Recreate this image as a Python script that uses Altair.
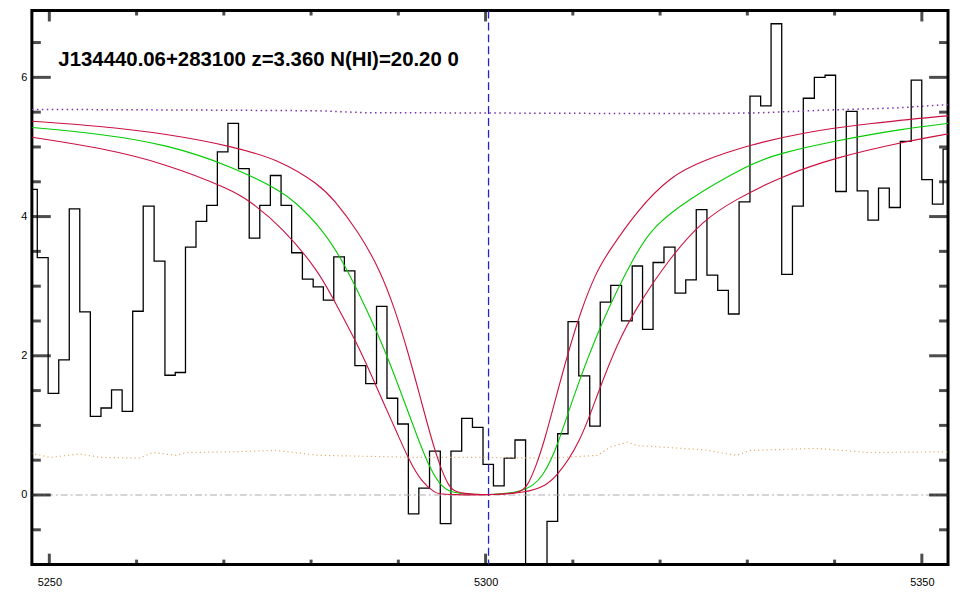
import altair as alt
import pandas as pd

# ---------------- data ----------------
# observed spectrum (bin centres, Angstrom) and flux
wave = [5247.99, 5249.25, 5250.48, 5251.68, 5252.89, 5254.09, 5255.31, 5256.53, 5257.73, 5258.96,
        5260.15, 5261.37, 5262.65, 5263.85, 5265.01, 5266.20, 5267.42, 5268.65, 5269.87, 5271.07,
        5272.30, 5273.52, 5274.72, 5275.95, 5277.17, 5278.37, 5279.64, 5280.84, 5281.98, 5283.22,
        5284.41, 5285.63, 5286.90, 5288.10, 5289.30, 5290.55, 5291.75, 5292.95, 5294.20, 5295.42,
        5296.64, 5297.88, 5299.11, 5300.30, 5301.50, 5302.76, 5303.98, 5305.19, 5306.42, 5307.66,
        5308.86, 5310.04, 5311.32, 5312.55, 5313.73, 5314.96, 5316.21, 5317.40, 5318.58, 5319.81,
        5321.08, 5322.34, 5323.54, 5324.75, 5325.99, 5327.22, 5328.44, 5329.67, 5330.93, 5332.12,
        5333.32, 5334.56, 5335.78, 5337.05, 5338.31, 5339.51, 5340.72, 5341.96, 5343.21, 5344.43,
        5345.64, 5346.90, 5348.17, 5349.39, 5350.59, 5351.83, 5353.04]
flux = [4.39, 3.41, 1.46, 1.94, 4.11, 2.63, 1.13, 1.25, 1.51, 1.20,
        2.64, 4.15, 3.36, 1.72, 1.76, 3.56, 3.93, 4.16, 4.93, 5.34,
        4.69, 3.69, 4.16, 4.59, 4.16, 3.48, 3.10, 2.99, 2.80, 3.42,
        3.22, 1.86, 1.60, 2.71, 1.39, 1.02, -0.27, 0.10, 0.63, -0.41,
        0.63, 1.10, 0.97, 0.44, 0.13, 0.53, 0.79, -1.60, -1.40, -0.38,
        0.88, 2.49, 1.71, 0.99, 2.77, 3.01, 2.50, 3.29, 2.38, 3.34,
        3.56, 2.90, 3.09, 4.10, 3.16, 2.94, 2.60, 4.21, 5.73, 5.59,
        6.77, 3.17, 4.15, 5.70, 6.00, 6.03, 4.36, 5.51, 4.37, 3.95,
        4.41, 4.13, 5.08, 5.96, 4.53, 4.18, 4.97]

# best-fit DLA profile (green)
fit_wave = [5248.03, 5255.78, 5263.39, 5270.99, 5276.69, 5278.22, 5280.88, 5283.54, 5286.58, 5288.67,
            5290.57, 5292.28, 5293.62, 5294.94, 5296.47, 5304.45, 5306.73, 5308.25, 5309.96, 5313.19,
            5317.38, 5319.28, 5322.71, 5330.30, 5333.72, 5340.18, 5347.79, 5353.11]
fit_flux = [5.28, 5.19, 5.04, 4.72, 4.36, 4.20, 3.88, 3.40, 2.61, 2.02,
            1.38, 0.80, 0.38, 0.11, 0.0, 0.0, 0.28, 0.71, 1.38, 2.47,
            3.52, 3.85, 4.21, 4.76, 4.91, 5.09, 5.26, 5.34]

# lower-N(HI) profile (upper red)
hi_wave = [5248.03, 5255.78, 5263.39, 5270.99, 5276.69, 5280.88, 5282.59, 5285.44, 5287.92, 5289.63,
           5291.14, 5292.48, 5293.80, 5294.76, 5295.71, 5296.60, 5303.90, 5304.85, 5305.80, 5306.80,
           5308.10, 5309.45, 5310.95, 5312.68, 5313.96, 5317.38, 5321.18, 5324.99, 5330.30, 5336.39,
           5343.99, 5353.11]
hi_flux = [5.37, 5.30, 5.19, 5.01, 4.80, 4.46, 4.25, 3.78, 3.23, 2.66,
           2.04, 1.42, 0.80, 0.42, 0.14, 0.0, 0.0, 0.14, 0.42, 0.80,
           1.42, 2.04, 2.66, 3.20, 3.47, 4.09, 4.58, 4.81, 5.03, 5.21,
           5.34, 5.45]

# higher-N(HI) profile (lower red)
lo_wave = [5248.03, 5255.78, 5263.39, 5270.99, 5272.89, 5276.69, 5280.88, 5282.39, 5285.06, 5286.96,
           5288.10, 5290.00, 5291.34, 5292.66, 5294.19, 5294.94, 5305.59, 5308.25, 5310.91, 5312.62,
           5315.10, 5317.38, 5321.18, 5324.99, 5328.41, 5334.11, 5340.18, 5347.79, 5353.11]
lo_flux = [5.14, 4.99, 4.76, 4.38, 4.23, 3.85, 3.21, 2.85, 2.23, 1.71,
           1.38, 0.85, 0.47, 0.19, 0.03, 0.0, 0.0, 0.26, 0.78, 1.38,
           2.19, 2.71, 3.42, 3.95, 4.23, 4.59, 4.85, 5.07, 5.19]

# continuum (purple dotted)
cont_wave = [5248.0, 5267.19, 5280.88, 5286.58, 5294.56, 5317.38, 5325.47, 5331.22, 5339.07, 5347.06, 5353.1]
cont_flux = [5.54, 5.53, 5.52, 5.49, 5.49, 5.48, 5.48, 5.49, 5.53, 5.56, 5.61]

# error array (orange dotted)
err_wave = [5247.91, 5250.08, 5253.50, 5255.78, 5260.35, 5261.86, 5264.53, 5265.67, 5270.99, 5275.94,
            5280.88, 5292.28, 5299.89, 5307.49, 5312.82, 5314.33, 5316.24, 5317.38, 5324.99, 5328.78,
            5330.30, 5337.90, 5343.99, 5351.60, 5353.10]
err_flux = [0.60, 0.54, 0.59, 0.54, 0.53, 0.61, 0.57, 0.61, 0.62, 0.64,
            0.57, 0.54, 0.54, 0.53, 0.57, 0.69, 0.76, 0.71, 0.65, 0.57,
            0.64, 0.67, 0.61, 0.62, 0.62]

lya_wave = [5300.34]
zero_level = [0.0]

label_text = ["J134440.06+283100 z=3.360 N(HI)=20.20 0"]
label_wave = [5251.03]
label_flux = [6.161]

x_major_ticks = [5250, 5300, 5350]
x_minor_ticks = [5260, 5270, 5280, 5290, 5310, 5320, 5330, 5340]
y_major_ticks = [0, 2, 4, 6]
y_minor_ticks = [-0.5, 0.5, 1, 1.5, 2.5, 3, 3.5, 4.5, 5, 5.5, 6.5]

X_DOMAIN = [5248.0, 5353.0]
Y_DOMAIN = [-1.0, 6.96]

# ---------------- chart ----------------
FONT = "Liberation Sans"
xs = alt.Scale(domain=X_DOMAIN, nice=False, zero=False)
ys = alt.Scale(domain=Y_DOMAIN, nice=False, zero=False)
xaxis = alt.Axis(values=x_major_ticks, format="d", ticks=False, tickSize=0, domain=False, grid=False,
                 labelPadding=12, labelFontSize=11, labelFont=FONT, labelColor="black", title="")
yaxis = alt.Axis(values=y_major_ticks, format="d", ticks=False, tickSize=0, domain=False, grid=False,
                 labelPadding=5, labelFontSize=11, labelFont=FONT, labelColor="black", title="")


def X(field):
    return alt.X(field, type="quantitative", scale=xs, axis=xaxis)


def Y(field):
    return alt.Y(field, type="quantitative", scale=ys, axis=yaxis)


def line(w, f, color, interp, width=1.2, dash=None):
    df = pd.DataFrame({"w": w, "f": f})
    kw = dict(color=color, strokeWidth=width, interpolate=interp, clip=True)
    if dash:
        kw["strokeDash"] = dash
    return alt.Chart(df).mark_line(**kw).encode(x=X("w"), y=Y("f"))


layers = []
layers.append(line(wave, flux, "black", "step", 1.3))
layers.append(line(cont_wave, cont_flux, "#7a2fa8", "linear", 1.5, [1.5, 3.5]))
layers.append(line(err_wave, err_flux, "#e3b070", "linear", 1.2, [1.2, 3]))
layers.append(
    alt.Chart(pd.DataFrame({"z": zero_level})).mark_rule(
        color="#aaaaaa", strokeWidth=1, strokeDash=[7, 3, 2, 3]).encode(y=Y("z"))
)
layers.append(
    alt.Chart(pd.DataFrame({"lw": lya_wave})).mark_rule(
        color="#2222cc", strokeWidth=1.3, strokeDash=[8, 4]).encode(x=X("lw"))
)
layers.append(line(fit_wave, fit_flux, "#00cc00", "basis", 1.1))
layers.append(line(hi_wave, hi_flux, "#cc1040", "basis", 1.1))
layers.append(line(lo_wave, lo_flux, "#cc1040", "basis", 1.1))

layers.append(
    alt.Chart(pd.DataFrame({"w": label_wave, "f": label_flux, "t": label_text})).mark_text(
        align="left", baseline="alphabetic", font=FONT, fontSize=20.5, fontWeight="bold", color="black"
    ).encode(x=X("w"), y=Y("f"), text="t:N")
)


def xticks(vals, length, at_top):
    ydat = Y_DOMAIN[1] if at_top else Y_DOMAIN[0]
    off = length / 2 if at_top else -length / 2
    return alt.Chart(pd.DataFrame({"v": vals})).mark_tick(
        orient="vertical", size=length, thickness=3, color="black", yOffset=off
    ).encode(x=X("v"), y=alt.YDatum(ydat, type="quantitative", scale=ys, axis=yaxis))


def yticks(vals, length, at_right):
    xdat = X_DOMAIN[1] if at_right else X_DOMAIN[0]
    off = -length / 2 if at_right else length / 2
    return alt.Chart(pd.DataFrame({"v": vals})).mark_tick(
        orient="horizontal", size=length, thickness=3, color="black", xOffset=off
    ).encode(y=Y("v"), x=alt.XDatum(xdat, type="quantitative", scale=xs, axis=xaxis))


for top in (False, True):
    layers.append(xticks(x_major_ticks, 11, top))
    layers.append(xticks(x_minor_ticks, 5, top))
for right in (False, True):
    layers.append(yticks(y_major_ticks, 19, right))
    layers.append(yticks(y_minor_ticks, 9, right))

chart = alt.layer(*layers).properties(
    width=921, height=557,
    padding={"left": 24, "top": 1, "right": 4, "bottom": 26},
    autosize=alt.AutoSizeParams(type="none"),
    background="white",
).configure_view(stroke="black", strokeWidth=3)

chart.save("out.html", embed_options={"renderer": "svg", "actions": False})
